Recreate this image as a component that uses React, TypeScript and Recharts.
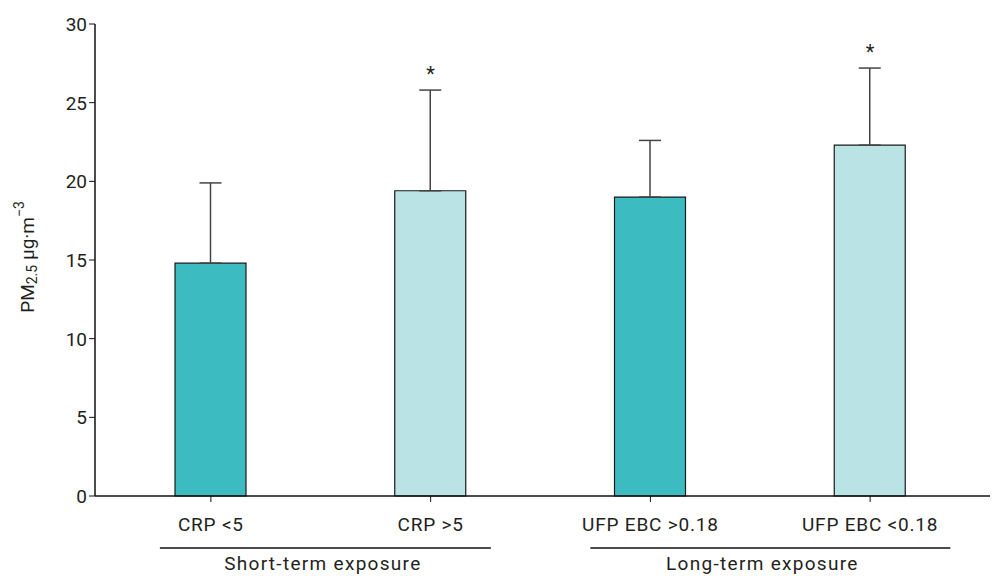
import React from "react";
import {
  ComposedChart,
  Bar,
  Line,
  XAxis,
  YAxis,
  ErrorBar,
  Cell,
  LabelList,
} from "recharts";

const categories = ["CRP <5", "CRP >5", "UFP EBC >0.18", "UFP EBC <0.18"];
const means = [14.8, 19.4, 19.0, 22.3];
const sds = [5.1, 6.4, 3.6, 4.9];
const stars = ["", "*", "", "*"];
const groups = [
  "Short-term exposure",
  "Short-term exposure",
  "Long-term exposure",
  "Long-term exposure",
];
const yTicks = [0, 5, 10, 15, 20, 25, 30];

const DARK = "#3CBCC0";
const LIGHT = "#B9E3E5";
const barColors = [DARK, LIGHT, DARK, LIGHT];
const FONT = "Roboto, 'Liberation Sans', sans-serif";
const TEXT = "#231f20";

const data = categories.map((c, i) => ({
  category: c,
  mean: means[i],
  err: [0, sds[i]],
  top: means[i] + sds[i],
  star: stars[i],
  group: groups[i],
}));

const XTick = (props: any) => {
  const { x, y, payload } = props;
  const idx = payload?.index ?? props.index ?? 0;
  const isGroupStart = idx === 0 || groups[idx] !== groups[idx - 1];
  const spanLeft = idx === 0 ? 51 : 60;
  const spanRight = idx === 0 ? 280 : 300;
  return (
    <g>
      <text
        x={x}
        y={y}
        dy={27}
        textAnchor="middle"
        fontSize={19}
        fontFamily={FONT}
        letterSpacing={0.8}
        fill={TEXT}
      >
        {payload.value}
      </text>
      {isGroupStart && (
        <g>
          <line
            x1={x - spanLeft}
            x2={x + spanRight}
            y1={y + 44}
            y2={y + 44}
            stroke="#111"
            strokeWidth={1.5}
          />
          <text
            x={x + 112}
            y={y + 66}
            textAnchor="middle"
            fontSize={19}
            fontFamily={FONT}
            letterSpacing={1.3}
            fill={TEXT}
          >
            {groups[idx]}
          </text>
        </g>
      )}
    </g>
  );
};

const YTick = (props: any) => {
  const { x, y, payload } = props;
  return (
    <text
      x={x}
      y={y}
      dy={7}
      textAnchor="end"
      fontSize={19}
      fontFamily={FONT}
      fill={TEXT}
    >
      {payload.value}
    </text>
  );
};

const YLabel = (props: any) => {
  const cx = 27;
  const cy = 257;
  return (
    <text
      x={cx}
      y={cy}
      transform={`rotate(-90 ${cx} ${cy})`}
      textAnchor="middle"
      dominantBaseline="central"
      fontSize={19}
      fontFamily={FONT}
      fill={TEXT}
    >
      <tspan>PM</tspan>
      <tspan fontSize={14} dy={5}>2.5</tspan>
      <tspan dy={-5}> µg·m</tspan>
      <tspan fontSize={14} dy={-8}>−3</tspan>
    </text>
  );
};

const StarLabel = (props: any) => {
  const { x, y, value } = props;
  if (!value) return null;
  return (
    <text
      x={x}
      y={y - 9}
      textAnchor="middle"
      fontSize={20}
      fontFamily={FONT}
      fill={TEXT}
    >
      {value}
    </text>
  );
};

export default function App() {
  return (
    <div style={{ position: "absolute", left: 0, top: 0, background: "#fff" }}>
      <ComposedChart
        width={992}
        height={576}
        data={data}
        margin={{ top: 24, right: 2, bottom: 0, left: 35 }}
      >
        <XAxis
          dataKey="category"
          height={80}
          tickSize={6}
          interval={0}
          padding={{ left: 6, right: 10 }}
          axisLine={{ stroke: "#111", strokeWidth: 1.5 }}
          tickLine={{ stroke: "#111", strokeWidth: 1 }}
          tick={<XTick />}
        />
        <YAxis
          width={60}
          domain={[0, 30]}
          ticks={yTicks}
          tickSize={6}
          axisLine={{ stroke: "#111", strokeWidth: 1.5 }}
          tickLine={{ stroke: "#111", strokeWidth: 1 }}
          tick={<YTick />}
          label={<YLabel />}
        />
        <Bar
          dataKey="mean"
          barSize={71}
          stroke="#1a1a1a"
          strokeWidth={1.2}
          isAnimationActive={false}
        >
          {data.map((d, i) => (
            <Cell key={i} fill={barColors[i]} />
          ))}
          <ErrorBar
            dataKey="err"
            direction="y"
            width={11}
            stroke="#444"
            strokeWidth={1.5}
          />
        </Bar>
        <Line
          dataKey="top"
          stroke="none"
          dot={false}
          activeDot={false}
          isAnimationActive={false}
        >
          <LabelList dataKey="star" content={<StarLabel />} />
        </Line>
      </ComposedChart>
    </div>
  );
}
